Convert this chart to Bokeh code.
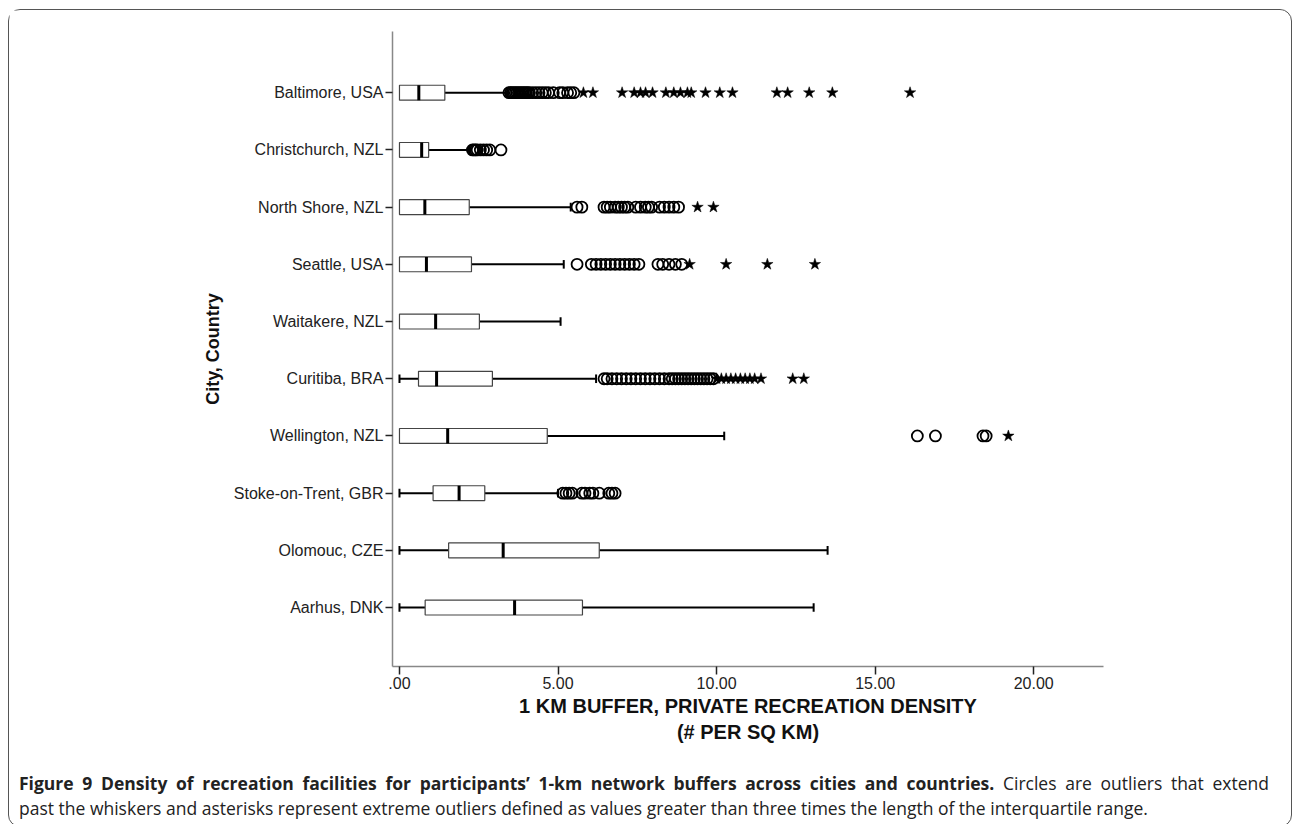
from bokeh.plotting import figure
from bokeh.models import FixedTicker, Div, Range1d, ColumnDataSource
from bokeh.layouts import column
from bokeh.embed import file_html
from bokeh.resources import INLINE

# ---------------- data ----------------
cities = ["Aarhus, DNK", "Olomouc, CZE", "Stoke-on-Trent, GBR", "Wellington, NZL",
          "Curitiba, BRA", "Waitakere, NZL", "Seattle, USA", "North Shore, NZL",
          "Christchurch, NZL", "Baltimore, USA"]
whisker_low = [0.0, 0.0, 0.0, 0.0, 0.0, 0.0, 0.0, 0.0, 0.0, 0.0]
q1 = [0.81, 1.55, 1.06, 0.0, 0.6, 0.0, 0.0, 0.0, 0.0, 0.0]
median = [3.63, 3.27, 1.88, 1.52, 1.17, 1.14, 0.85, 0.8, 0.7, 0.61]
q3 = [5.77, 6.3, 2.69, 4.66, 2.93, 2.52, 2.27, 2.2, 0.92, 1.43]
whisker_high = [13.06, 13.5, 5.0, 10.24, 6.2, 5.08, 5.18, 5.4, 2.2, 3.4]

# outliers (circles) and extreme outliers (stars) per city
baltimore_out = [3.45, 3.5, 3.55, 3.6, 3.65, 3.7, 3.75, 3.8, 3.85, 3.9, 3.95, 4.0, 4.05,
                 4.1, 4.2, 4.3, 4.4, 4.5, 4.6, 4.7, 4.85, 5.05, 5.15, 5.3, 5.4, 5.5]
baltimore_ext = [5.8, 6.1, 7.02, 7.4, 7.6, 7.76, 7.98, 8.4, 8.65, 8.86, 9.08, 9.2,
                 9.65, 10.1, 10.5, 11.9, 12.24, 12.92, 13.65, 16.1]
christchurch_out = [2.3, 2.35, 2.4, 2.45, 2.55, 2.65, 2.75, 2.85, 3.2]
christchurch_ext = []
northshore_out = [5.6, 5.75, 6.45, 6.55, 6.65, 6.8, 6.9, 7.0, 7.1, 7.2, 7.45, 7.6,
                  7.75, 7.85, 7.95, 8.2, 8.35, 8.5, 8.65, 8.8]
northshore_ext = [9.4, 9.9]
seattle_out = [5.6, 6.05, 6.2, 6.35, 6.5, 6.65, 6.8, 6.95, 7.1, 7.25, 7.4, 7.55,
               8.15, 8.3, 8.5, 8.7, 8.9]
seattle_ext = [9.15, 10.3, 11.6, 13.1]
waitakere_out = []
waitakere_ext = []
curitiba_out = [6.45, 6.55, 6.7, 6.85, 7.0, 7.15, 7.3, 7.45, 7.6, 7.75, 7.9, 8.05,
                8.2, 8.35, 8.5, 8.6, 8.7, 8.8, 8.9, 9.0, 9.1, 9.2, 9.3, 9.4, 9.5,
                9.6, 9.7, 9.8, 9.9]
curitiba_ext = [10.0, 10.15, 10.3, 10.45, 10.6, 10.75, 10.9, 11.05, 11.2, 11.4, 12.4, 12.75]
wellington_out = [16.33, 16.9, 18.4, 18.5]
wellington_ext = [19.2]
stoke_out = [5.15, 5.25, 5.35, 5.45, 5.75, 5.85, 6.0, 6.1, 6.3, 6.6, 6.7, 6.8]
stoke_ext = []
olomouc_out, olomouc_ext = [], []
aarhus_out, aarhus_ext = [], []

outliers = [aarhus_out, olomouc_out, stoke_out, wellington_out, curitiba_out,
            waitakere_out, seattle_out, northshore_out, christchurch_out, baltimore_out]
extremes = [aarhus_ext, olomouc_ext, stoke_ext, wellington_ext, curitiba_ext,
            waitakere_ext, seattle_ext, northshore_ext, christchurch_ext, baltimore_ext]

x_ticks = [0, 5, 10, 15, 20]
x_tick_labels = [".00", "5.00", "10.00", "15.00", "20.00"]

x_title = "1 KM BUFFER, PRIVATE RECREATION DENSITY\n(# PER SQ KM)"
y_title = "City, Country"
caption_bold = "Figure 9 Density of recreation facilities for participants’ 1-km network buffers across cities and countries."
caption_line1 = "Circles are outliers that extend"
caption_line2 = "past the whiskers and asterisks represent extreme outliers defined as values greater than three times the length of the interquartile range."

# ---------------- figure ----------------
FONT = "Liberation Sans"
p = figure(width=1274, height=746, x_range=Range1d(-0.22, 22.2), y_range=Range1d(-1.03, 10.07),
           output_backend="svg", toolbar_location=None,
           min_border_left=383, min_border_right=180, min_border_top=21, min_border_bottom=90)
p.outline_line_color = None
p.xgrid.visible = False
p.ygrid.visible = False
p.background_fill_color = "white"
p.border_fill_color = "white"

ypos = list(range(len(cities)))
box_h = 0.26
half = box_h / 2
cap_h = 0.075

src = ColumnDataSource(dict(y=ypos, wl=whisker_low, q1=q1, med=median, q3=q3, wh=whisker_high,
                            yb=[v - half for v in ypos], yt=[v + half for v in ypos],
                            cb=[v - cap_h for v in ypos], ct=[v + cap_h for v in ypos]))
# whiskers
p.segment(x0="wl", x1="q1", y0="y", y1="y", source=src, line_color="black", line_width=2)
p.segment(x0="q3", x1="wh", y0="y", y1="y", source=src, line_color="black", line_width=2)
p.segment(x0="wh", x1="wh", y0="cb", y1="ct", source=src, line_color="black", line_width=2)
lo_idx = [i for i in ypos if whisker_low[i] < q1[i]]
p.segment(x0=[whisker_low[i] for i in lo_idx], x1=[whisker_low[i] for i in lo_idx],
          y0=[i - cap_h for i in lo_idx], y1=[i + cap_h for i in lo_idx],
          line_color="black", line_width=2)
# boxes
p.quad(left="q1", right="q3", bottom="yb", top="yt", source=src,
       fill_color="white", line_color="#444444", line_width=1.2)
# medians
p.segment(x0="med", x1="med", y0="yb", y1="yt", source=src, line_color="black", line_width=3)

# outliers
ox, oy, ex, ey = [], [], [], []
for i in ypos:
    ox += outliers[i]
    oy += [i] * len(outliers[i])
    ex += extremes[i]
    ey += [i] * len(extremes[i])
p.scatter(ox, oy, marker="circle", size=11, fill_color=None, line_color="black", line_width=1.8)
p.scatter(ex, ey, marker="star", size=12, fill_color="black", line_color="black", line_width=0.5)

# axes
xa = p.xaxis[0]
xa.ticker = FixedTicker(ticks=x_ticks)
xa.major_label_overrides = {t: l for t, l in zip(x_ticks, x_tick_labels)}
xa.minor_tick_line_color = None
xa.major_tick_in = 0
xa.major_tick_out = 8
xa.major_tick_line_width = 1.5
xa.major_tick_line_color = "#222222"
xa.axis_line_color = "#888888"
xa.axis_line_width = 1.5
xa.major_label_text_font = FONT
xa.major_label_text_font_size = "16px"
xa.major_label_text_color = "#222222"
xa.major_label_standoff = 2
xa.axis_label = x_title
xa.axis_label_text_font = FONT
xa.axis_label_text_font_style = "bold"
xa.axis_label_text_font_size = "20px"
xa.axis_label_text_color = "#111111"
xa.axis_label_standoff = 3

ya = p.yaxis[0]
ya.ticker = FixedTicker(ticks=ypos)
ya.major_label_overrides = {i: c for i, c in zip(ypos, cities)}
ya.minor_tick_line_color = None
ya.major_tick_in = 0
ya.major_tick_out = 7
ya.major_tick_line_width = 1.5
ya.major_tick_line_color = "#222222"
ya.axis_line_color = "#888888"
ya.axis_line_width = 1.5
ya.major_label_text_font = FONT
ya.major_label_text_font_size = "16px"
ya.major_label_text_color = "#222222"
ya.major_label_standoff = 2
ya.axis_label = y_title
ya.axis_label_text_font = FONT
ya.axis_label_text_font_style = "bold"
ya.axis_label_text_font_size = "18px"
ya.axis_label_text_color = "#111111"
ya.axis_label_standoff = 8

caption = Div(
    text=(f'<div style="width:1250px;text-align:justify;text-align-last:justify">'
          f'<span style="font-weight:700">{caption_bold}</span> {caption_line1}</div>'
          f'<div>{caption_line2}</div>'),
    width=1272,
    styles={"font-family": "Open Sans", "font-size": "17.5px", "line-height": "25px",
            "color": "#222222", "white-space": "nowrap", "padding-left": "5px",
            "padding-top": "10px"})

layout = column(p, caption, margin=(9, 0, 0, 8),
                styles={"border": "1px solid #555555", "border-radius": "12px",
                        "background-color": "white"})

open("out.html", "w").write(file_html(layout, INLINE))
